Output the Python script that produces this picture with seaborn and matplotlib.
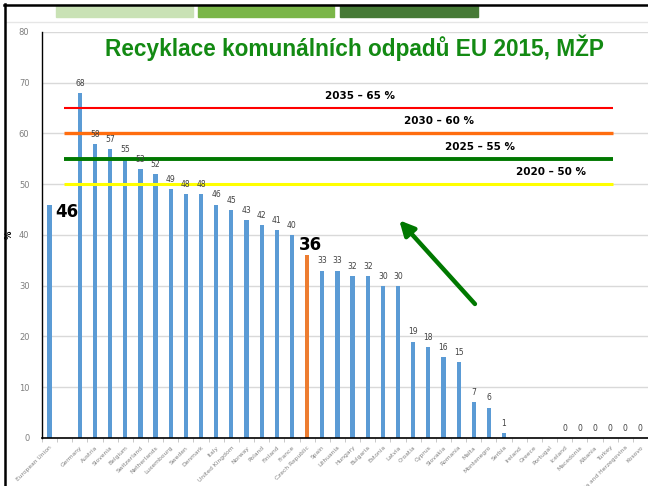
import numpy as np
import pandas as pd
import seaborn as sns
import matplotlib.pyplot as plt
from matplotlib.patches import Rectangle
from matplotlib.lines import Line2D

# recycling rate of municipal waste 2015 (%)
countries = ['European Union', ' ', 'Germany', 'Austria', 'Slovenia', 'Belgium', 'Switzerland',
             'Netherlands', 'Luxembourg', 'Sweden', 'Denmark', 'Italy', 'United Kingdom', 'Norway',
             'Poland', 'Finland', 'France', 'Czech Republic', 'Spain', 'Lithuania', 'Hungary',
             'Bulgaria', 'Estonia', 'Latvia', 'Croatia', 'Cyprus', 'Slovakia', 'Romania', 'Malta',
             'Montenegro', 'Serbia', 'Ireland', 'Greece', 'Portugal', 'Iceland', 'Macedonia',
             'Albania', 'Turkey', 'Bosnia and Herzegovina', 'Kosovo']
rates = [46, np.nan, 68, 58, 57, 55, 53, 52, 49, 48, 48, 46, 45, 43, 42, 41, 40, 36, 33, 33, 32,
         32, 30, 30, 19, 18, 16, 15, 7, 6, 1, np.nan, np.nan, np.nan, 0, 0, 0, 0, 0, 0]

# EU targets
target_years = ['2035', '2030', '2025', '2020']
target_values = [65, 60, 55, 50]
target_colors = ['#ff0000', '#ff6d0f', '#007800', '#ffff00']
target_widths = [1.5, 2.4, 2.8, 2.2]
target_label_pos = [20.5, 25.7, 28.4, 33.1]

df = pd.DataFrame({'country': countries, 'rate': rates})
highlight = {c: '#5b9bd5' for c in countries}
highlight['Czech Republic'] = '#ed7d31'

fig = plt.figure(figsize=(6.48, 4.86), dpi=100)
ax = fig.add_axes([0.0648, 0.0988, 0.9352, 0.8354])

sns.barplot(data=df.dropna(), x='country', y='rate', hue='country', order=countries,
            palette=highlight, width=0.28, legend=False, ax=ax, saturation=1)

ax.set_ylim(0, 80)
ax.set_xlim(-0.5, len(countries) - 0.5)
ax.set_yticks(range(0, 81, 10))
ax.yaxis.grid(True, color='#d9d9d9', lw=1)
ax.set_axisbelow(True)
for s in ['top', 'right']:
    ax.spines[s].set_visible(False)
ax.spines['left'].set_color('black')
ax.spines['bottom'].set_color('black')
ax.spines['left'].set_linewidth(1)
ax.spines['bottom'].set_linewidth(1.2)
ax.tick_params(axis='y', length=0, labelsize=6, labelcolor='#7f7f7f', pad=9)
ax.set_xticks(range(len(countries)))
ax.set_xticklabels(countries, rotation=45, ha='right', rotation_mode='anchor',
                   fontsize=4.3, color='#7f7f7f')
ax.set_xticks(np.arange(-0.5, len(countries), 1), minor=True)
ax.tick_params(axis='x', which='major', length=0, pad=5)
ax.tick_params(axis='x', which='minor', length=3, color='#bfbfbf')
ax.set_xlabel('')
ax.set_ylabel('%', fontsize=6, fontweight='bold', labelpad=4)

# value labels
for i, (c, v) in enumerate(zip(countries, rates)):
    if np.isnan(v):
        continue
    if c == 'European Union':
        ax.text(i + 0.35, v - 1.5, f'{v:.0f}', fontsize=12, fontweight='bold', va='center')
    elif c == 'Czech Republic':
        ax.text(i + 0.25, v + 0.3, f'{v:.0f}', fontsize=12, fontweight='bold', ha='center', va='bottom')
    else:
        ax.text(i, v + 1, f'{v:.0f}', fontsize=5.5, color='#404040', ha='center', va='bottom')

# target lines
for yr, val, col, lw, lx in zip(target_years, target_values, target_colors, target_widths,
                                target_label_pos):
    ax.plot([0.92, 37.2], [val, val], color=col, lw=lw, solid_capstyle='butt')
    ax.text(lx, val + 2.4, f'{yr} – {val} %', fontsize=7.5, fontweight='bold',
            ha='center', va='center')

ax.annotate('', xy=(22.96, 43.3), xytext=(28.2, 26.0),
            arrowprops=dict(arrowstyle='-|>', color='#007800', lw=3.2, mutation_scale=22))

ax.text(0.516, 1 - (48 - 32) / 406, 'Recyklace komunálních odpadů EU 2015, MŽP',
        transform=ax.transAxes, ha='center', va='center', fontsize=16.3, fontweight='bold',
        color='#138a13', family='Liberation Sans')

# slide decoration
W, H = 648, 486
for x0, x1, col in [(56, 193, '#c9e2b5'), (198, 334, '#7ab648'), (340, 478, '#467a36')]:
    fig.patches.append(Rectangle((x0 / W, 1 - 17 / H), (x1 - x0) / W, 12 / H,
                                 transform=fig.transFigure, color=col))
fig.add_artist(Line2D([5 / W, 1], [1 - 22 / H] * 2, color='#e6e6e6', lw=1))
fig.add_artist(Line2D([5 / W, 5 / W], [0, 1 - 4 / H], color='black', lw=1.8))
fig.add_artist(Line2D([4 / W, 1], [1 - 5 / H] * 2, color='black', lw=1.8))

plt.savefig('out.png', dpi=100)
